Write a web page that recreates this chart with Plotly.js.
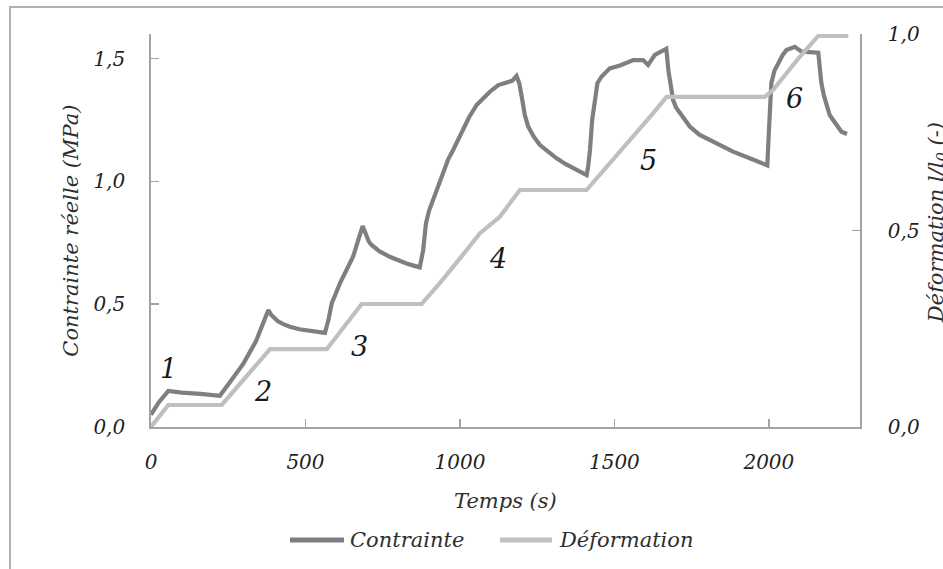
<!DOCTYPE html>
<html>
<head>
<meta charset="utf-8">
<script src="https://cdn.plot.ly/plotly-3.0.1.min.js"></script>
<style>
  html, body { margin: 0; padding: 0; background: #ffffff; }
  #chart { width: 943px; height: 569px; }
</style>
</head>
<body>
<div id="chart"></div>
<script>
// ---- Data ----
const contrainteTime = [0, 25, 56, 100, 160, 223, 260, 300, 340, 380,
  390, 400, 411, 430, 450, 480, 520, 547, 563,
  575, 585, 612, 654, 685,
  695, 705, 714, 740, 773, 800, 827, 850, 870,
  881, 890, 900, 913, 930, 946, 962, 978, 995, 1011, 1030, 1054, 1075, 1097, 1124, 1156, 1170, 1183,
  1192, 1200, 1210, 1221, 1240, 1259, 1285, 1313, 1340, 1367, 1390, 1410,
  1415, 1421, 1428, 1437, 1445, 1458, 1485, 1518, 1561, 1593, 1609, 1631, 1663, 1668,
  1675, 1680, 1690, 1700, 1712, 1730, 1744, 1775, 1809, 1845, 1884, 1938, 1981, 1995,
  2000, 2004, 2008, 2018, 2030, 2045, 2057, 2084, 2106, 2133, 2160,
  2165, 2170, 2178, 2187, 2197, 2208, 2220, 2235, 2253];
const contrainteMPa = [0.05, 0.10, 0.147, 0.140, 0.135, 0.127, 0.19, 0.26, 0.35, 0.476,
  0.455, 0.44, 0.43, 0.418, 0.408, 0.398, 0.39, 0.386, 0.383,
  0.44, 0.503, 0.586, 0.693, 0.818,
  0.78, 0.755, 0.741, 0.715, 0.693, 0.678, 0.666, 0.657, 0.650,
  0.72, 0.829, 0.88, 0.924, 0.99, 1.046, 1.09, 1.128, 1.175, 1.216, 1.262, 1.311, 1.34, 1.365, 1.392, 1.406, 1.41, 1.429,
  1.40, 1.345, 1.27, 1.223, 1.18, 1.148, 1.12, 1.094, 1.072, 1.053, 1.038, 1.026,
  1.06, 1.128, 1.25, 1.345, 1.40, 1.426, 1.46, 1.472, 1.494, 1.494, 1.474, 1.515, 1.535, 1.54,
  1.45, 1.40, 1.331, 1.30, 1.277, 1.245, 1.223, 1.19, 1.169, 1.145, 1.121, 1.094, 1.074, 1.065,
  1.2, 1.32, 1.40, 1.45, 1.481, 1.515, 1.535, 1.548, 1.528, 1.528, 1.524,
  1.46, 1.40, 1.35, 1.304, 1.27, 1.25, 1.225, 1.202, 1.193];

const deformationTime = [0, 56, 229, 288, 342, 385, 569, 633, 682, 876,
  935, 1000, 1065, 1129, 1194, 1410, 1453, 1518, 1582, 1625, 1669, 1987,
  2014, 2057, 2100, 2160, 2257];
const deformationValue = [0, 0.056, 0.056, 0.111, 0.162, 0.198, 0.198, 0.264, 0.313, 0.313,
  0.366, 0.429, 0.493, 0.535, 0.603, 0.603, 0.642, 0.698, 0.756, 0.798, 0.840, 0.840,
  0.858, 0.9, 0.942, 0.995, 0.995];

const xTickVals = [0, 500, 1000, 1500, 2000];
const xTickText = ['0', '500', '1000', '1500', '2000'];
const yTickVals = [0, 0.5, 1.0, 1.5];
const yTickText = ['0,0', '0,5', '1,0', '1,5'];
const y2TickVals = [0, 0.5, 1.0];
const y2TickText = ['0,0', '0,5', '1,0'];

const seriesNames = ['Contrainte', 'Déformation'];
const stepLabels = ['1', '2', '3', '4', '5', '6'];

// ---- Styles ----
const FONT = 'DejaVu Serif';
const darkGray = '#7f7f81';
const lightGray = '#bfbfc1';
const axisGray = '#a3a3a3';
const textCol = '#1f1f1f';

const traces = [
  {
    x: deformationTime, y: deformationValue, name: seriesNames[1],
    type: 'scatter', mode: 'lines', yaxis: 'y2',
    line: { color: lightGray, width: 4.2, shape: 'linear' },
    showlegend: false, hoverinfo: 'skip'
  },
  {
    x: contrainteTime, y: contrainteMPa, name: seriesNames[0],
    type: 'scatter', mode: 'lines', yaxis: 'y',
    line: { color: darkGray, width: 4.2, shape: 'linear' },
    showlegend: false, hoverinfo: 'skip'
  }
];

const tickFont = { family: FONT, style: 'italic', size: 20, color: textCol };
const titleFont = { family: FONT, style: 'italic', size: 21, color: '#2e2e2e' };

const stepPos = [[56, 0.239], [363, 0.144], [676, 0.327], [1124, 0.687], [1609, 1.087], [2084, 1.338]];
const annotations = stepLabels.map((s, i) => ({
  text: s, x: stepPos[i][0], y: stepPos[i][1], xref: 'x', yref: 'y',
  showarrow: false, xanchor: 'center', yanchor: 'middle',
  font: { family: FONT, style: 'italic', size: 27, color: '#1a1a1a' }
}));

// axis titles
annotations.push({
  text: 'Temps (s)', xref: 'paper', yref: 'paper', x: 0.5, y: -0.188,
  showarrow: false, xanchor: 'center', yanchor: 'middle', font: titleFont
});
annotations.push({
  text: 'Contrainte réelle (MPa)', xref: 'paper', yref: 'paper', x: -0.114, y: 0.5,
  textangle: -90, showarrow: false, xanchor: 'center', yanchor: 'middle', font: titleFont
});
annotations.push({
  text: 'Déformation l/l<sub>0</sub> (-)', xref: 'paper', yref: 'paper', x: 1.108, y: 0.52,
  textangle: -90, showarrow: false, xanchor: 'center', yanchor: 'middle', font: titleFont
});
// custom legend labels
annotations.push({
  text: seriesNames[0], xref: 'paper', yref: 'paper', x: (348 - 151) / 709, y: -0.2875,
  showarrow: false, xanchor: 'left', yanchor: 'middle', font: titleFont
});
annotations.push({
  text: seriesNames[1], xref: 'paper', yref: 'paper', x: (557 - 151) / 709, y: -0.2875,
  showarrow: false, xanchor: 'left', yanchor: 'middle', font: titleFont
});

const shapes = [
  // outer chart frame (only top and left edges fall inside the picture)
  { type: 'rect', xref: 'paper', yref: 'paper', x0: (10 - 151) / 709, x1: (990 - 151) / 709,
    y0: (427 - 620) / 393, y1: (427 - 7) / 393, line: { color: '#b0b0b0', width: 2 }, layer: 'below' },
  // legend samples
  { type: 'line', xref: 'paper', yref: 'paper', x0: (290 - 151) / 709, x1: (344 - 151) / 709,
    y0: -0.2875, y1: -0.2875, line: { color: darkGray, width: 5 } },
  { type: 'line', xref: 'paper', yref: 'paper', x0: (500 - 151) / 709, x1: (552 - 151) / 709,
    y0: -0.2875, y1: -0.2875, line: { color: lightGray, width: 5 } }
];

const layout = {
  width: 943, height: 569,
  margin: { l: 151, r: 83, t: 34, b: 142, pad: 0 },
  paper_bgcolor: '#ffffff', plot_bgcolor: 'rgba(0,0,0,0)',
  showlegend: false,
  xaxis: {
    range: [0, 2295], tickvals: xTickVals, ticktext: xTickText,
    ticks: 'inside', ticklen: 8, tickwidth: 1.5, tickcolor: axisGray,
    showline: true, linecolor: axisGray, linewidth: 1.8,
    showgrid: false, zeroline: false, tickfont: tickFont, ticklabelstandoff: 16
  },
  yaxis: {
    range: [0, 1.6], tickvals: yTickVals, ticktext: yTickText,
    ticks: 'inside', ticklen: 8, tickwidth: 1.5, tickcolor: axisGray,
    showline: true, linecolor: axisGray, linewidth: 1.8,
    showgrid: false, zeroline: false, tickfont: tickFont, ticklabelstandoff: 20
  },
  yaxis2: {
    range: [0, 1.0], tickvals: y2TickVals, ticktext: y2TickText,
    overlaying: 'y', side: 'right',
    ticks: 'inside', ticklen: 8, tickwidth: 1.5, tickcolor: axisGray,
    showline: true, linecolor: axisGray, linewidth: 1.8,
    showgrid: false, zeroline: false, tickfont: tickFont, ticklabelstandoff: 22
  },
  annotations: annotations,
  shapes: shapes
};

Plotly.newPlot('chart', traces, layout, { staticPlot: true, displayModeBar: false });
</script>
</body>
</html>
